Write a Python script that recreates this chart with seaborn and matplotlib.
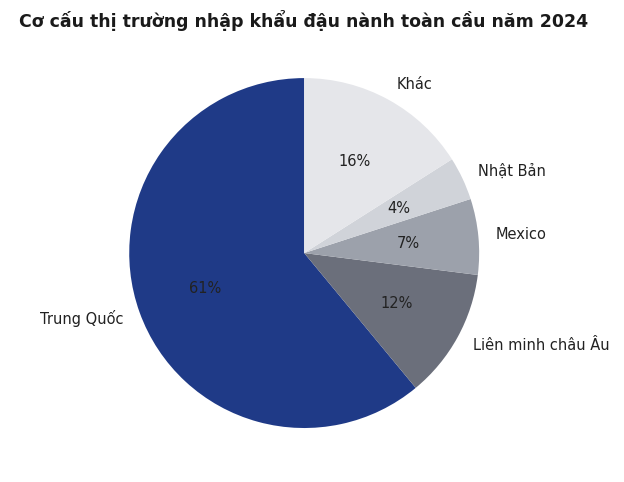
import matplotlib
matplotlib.use('Agg')
import matplotlib.pyplot as plt
import seaborn as sns

sns.set_theme(style='white')
plt.rcParams['font.family'] = ['DejaVu Sans']

labels = ['Trung Quốc', 'Liên minh châu Âu', 'Mexico', 'Nhật Bản', 'Khác']
shares = [61, 12, 7, 4, 16]
colors = ['#1f3a87', '#6b6f7b', '#9ca1ab', '#d0d3d9', '#e5e6ea']

fig = plt.figure(figsize=(6.24, 4.82), dpi=100)
ax = fig.add_axes([0.207, 0.112, 0.561, 0.726])
ax.pie(shares, labels=labels, colors=colors, startangle=90,
       autopct='%1.0f%%', radius=1.0, wedgeprops={'linewidth': 0},
       textprops={'fontsize': 10.5, 'color': '#222222'})
ax.set_xlim(-1, 1)
ax.set_ylim(-1, 1)
ax.set_aspect('equal')
fig.text(0.487, 0.957, 'Cơ cấu thị trường nhập khẩu đậu nành toàn cầu năm 2024',
         fontsize=12.5, fontweight='bold', color='#1a1a1a', ha='center', va='center')
fig.savefig('out.png', dpi=100)
